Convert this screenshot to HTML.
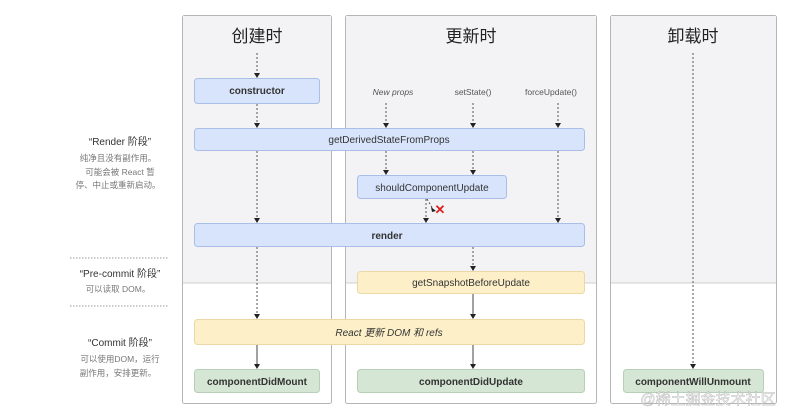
<!DOCTYPE html>
<html><head><meta charset="utf-8"><style>
html,body{margin:0;padding:0;background:#fff;width:800px;height:420px;overflow:hidden}
text{font-family:"Liberation Sans","Noto Sans CJK SC",sans-serif}
</style></head><body>
<svg width="800" height="420" viewBox="0 0 800 420" xmlns="http://www.w3.org/2000/svg">
<g stroke="#b5b5b5" stroke-width="1">
<rect x="182.5" y="15.5" width="149" height="388" rx="2" fill="#fff"/>
<rect x="345.5" y="15.5" width="251" height="388" rx="2" fill="#fff"/>
<rect x="610.5" y="15.5" width="166" height="388" rx="2" fill="#fff"/>
</g>
<g fill="#f3f3f5">
<rect x="183" y="16" width="148" height="267"/>
<rect x="346" y="16" width="250" height="267"/>
<rect x="611" y="16" width="165" height="267"/>
</g>
<g stroke="#cfcfcf"><line x1="183" y1="283" x2="331" y2="283"/><line x1="346" y1="283" x2="596" y2="283"/><line x1="611" y1="283" x2="776" y2="283"/></g>
<g font-size="17" fill="#222" text-anchor="middle">
<text x="257" y="42">创建时</text><text x="471" y="42">更新时</text><text x="693" y="42">卸载时</text>
</g>
<g stroke="#555" stroke-width="1" stroke-dasharray="2,2" fill="none">
<line x1="257" y1="53" x2="257" y2="76"/>
<line x1="257" y1="104" x2="257" y2="126"/>
<line x1="257" y1="151" x2="257" y2="221"/>
<line x1="257" y1="247" x2="257" y2="317"/>
<line x1="386" y1="103" x2="386" y2="126"/>
<line x1="473" y1="103" x2="473" y2="126"/>
<line x1="558" y1="103" x2="558" y2="126"/>
<line x1="386" y1="151" x2="386" y2="173"/>
<line x1="473" y1="151" x2="473" y2="173"/>
<line x1="558" y1="151" x2="558" y2="221"/>
<line x1="426" y1="199" x2="426" y2="221"/>
<line x1="427" y1="199" x2="433" y2="209"/>
<line x1="473" y1="247" x2="473" y2="269"/>
<line x1="693" y1="53" x2="693" y2="367"/>
</g>
<g stroke="#999" stroke-width="1" stroke-dasharray="1.5,1.5">
<line x1="70" y1="258" x2="168" y2="258"/>
<line x1="70" y1="306" x2="168" y2="306"/>
</g>
<g stroke="#444" stroke-width="1">
<line x1="257" y1="345" x2="257" y2="367"/>
<line x1="473" y1="294" x2="473" y2="317"/>
<line x1="473" y1="345" x2="473" y2="367"/>
</g>
<g fill="#222">
<path d="M254,73 h6 l-3,5z"/><path d="M254,123 h6 l-3,5z"/><path d="M254,218 h6 l-3,5z"/><path d="M254,314 h6 l-3,5z"/><path d="M254,364 h6 l-3,5z"/>
<path d="M383,123 h6 l-3,5z"/><path d="M470,123 h6 l-3,5z"/><path d="M555,123 h6 l-3,5z"/>
<path d="M383,170 h6 l-3,5z"/><path d="M470,170 h6 l-3,5z"/><path d="M555,218 h6 l-3,5z"/>
<path d="M423,218 h6 l-3,5z"/><path d="M470,266 h6 l-3,5z"/><path d="M470,314 h6 l-3,5z"/><path d="M470,364 h6 l-3,5z"/><path d="M690,364 h6 l-3,5z"/>
<path d="M431,207 l5,4 l-4,1z"/>
</g>
<text x="440" y="214" font-size="13" fill="#d22" font-weight="bold" text-anchor="middle">✕</text>
<g stroke-width="1">
<rect x="194.5" y="78.5" width="125" height="25" rx="3" fill="#d8e4fb" stroke="#a9bfe8"/>
<rect x="194.5" y="128.5" width="390" height="22" rx="3" fill="#d8e4fb" stroke="#a9bfe8"/>
<rect x="357.5" y="175.5" width="149" height="23" rx="3" fill="#d8e4fb" stroke="#a9bfe8"/>
<rect x="194.5" y="223.5" width="390" height="23" rx="3" fill="#d8e4fb" stroke="#a9bfe8"/>
<rect x="357.5" y="271.5" width="227" height="22" rx="3" fill="#fdf0c9" stroke="#ead9a6"/>
<rect x="194.5" y="319.5" width="390" height="25" rx="3" fill="#fdf0c9" stroke="#ead9a6"/>
<rect x="194.5" y="369.5" width="125" height="23" rx="3" fill="#d5e6d4" stroke="#b7cfb6"/>
<rect x="357.5" y="369.5" width="227" height="23" rx="3" fill="#d5e6d4" stroke="#b7cfb6"/>
<rect x="623.5" y="369.5" width="140" height="23" rx="3" fill="#d5e6d4" stroke="#b7cfb6"/>
</g>
<g font-size="10" fill="#333" text-anchor="middle">
<text x="257" y="94" font-weight="bold">constructor</text>
<text x="389" y="143">getDerivedStateFromProps</text>
<text x="432" y="191">shouldComponentUpdate</text>
<text x="387" y="239" font-weight="bold">render</text>
<text x="471" y="286">getSnapshotBeforeUpdate</text>
<text x="389" y="336" font-style="italic">React 更新 DOM 和 refs</text>
<text x="257" y="385" font-weight="bold">componentDidMount</text>
<text x="471" y="385" font-weight="bold">componentDidUpdate</text>
<text x="693" y="385" font-weight="bold">componentWillUnmount</text>
</g>
<g font-size="8.5" fill="#555" text-anchor="middle">
<text x="393" y="95" font-style="italic">New props</text>
<text x="473" y="95">setState()</text>
<text x="551" y="95">forceUpdate()</text>
</g>
<g text-anchor="middle">
<text x="120" y="145" font-size="10" fill="#333">“Render 阶段”</text>
<g font-size="8.5" fill="#777"><text x="118" y="161">纯净且没有副作用。</text><text x="120" y="175">可能会被 React 暂</text><text x="118" y="188">停、中止或重新启动。</text></g>
<text x="120" y="277" font-size="10" fill="#333">“Pre-commit 阶段”</text>
<text x="118" y="292" font-size="8.5" fill="#777">可以读取 DOM。</text>
<text x="120" y="346" font-size="10" fill="#333">“Commit 阶段”</text>
<g font-size="8.5" fill="#777"><text x="120" y="362">可以使用DOM，运行</text><text x="118" y="376">副作用，安排更新。</text></g>
</g>
<text x="708" y="404" font-size="15" fill="#fff" stroke="#aaa" stroke-width="0.5" text-anchor="middle" opacity="0.8">@稀土掘金技术社区</text>
</svg>
</body></html>
